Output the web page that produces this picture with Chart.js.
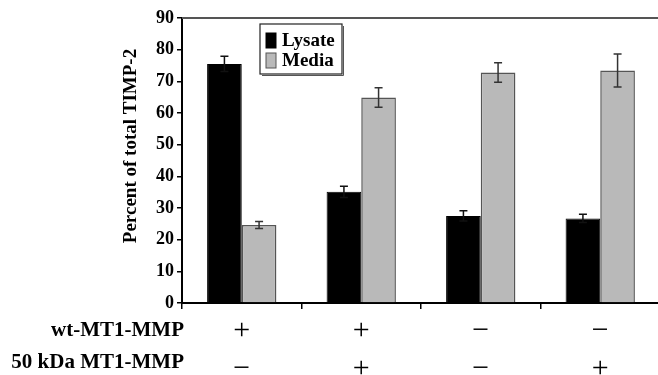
<!DOCTYPE html>
<html><head><meta charset="utf-8">
<script src="https://cdn.jsdelivr.net/npm/chart.js@4/dist/chart.umd.min.js"></script>
<style>html,body{margin:0;padding:0;overflow:hidden;background:#fff;width:658px;height:375px}
#wrap{width:660px;height:375px;position:relative}</style>
</head><body><div id="wrap"><canvas id="c" width="660" height="375"></canvas></div>
<script>
const wtMT1 = ['+', '+', '\u2212', '\u2212'];
const kda50 = ['\u2212', '+', '\u2212', '+'];
const rowLabels = ['wt-MT1-MMP', '50 kDa MT1-MMP'];
const seriesNames = ['Lysate', 'Media'];
const lysate = [75.5, 35.1, 27.5, 26.7];
const lysateErr = [2.4, 1.8, 1.6, 1.3];
const media = [24.6, 64.9, 72.8, 73.4];
const mediaErr = [1.1, 3.1, 3.1, 5.2];
const yTitle = 'Percent of total TIMP-2';
const yTicks = [0, 10, 20, 30, 40, 50, 60, 70, 80, 90];

const categories = wtMT1.map((w, i) => [w, kda50[i]]);
const errs = [lysateErr, mediaErr];
const SERIF = '"Liberation Serif", "Times New Roman", serif';

const extras = {
  id: 'extras',
  afterDatasetsDraw(chart) {
    const ctx = chart.ctx, ca = chart.chartArea, y = chart.scales.y;
    ctx.save();
    // top frame line
    ctx.strokeStyle = '#555'; ctx.lineWidth = 2;
    ctx.beginPath(); ctx.moveTo(ca.left, ca.top); ctx.lineTo(ca.right, ca.top); ctx.stroke();
    // error bars
    chart.data.datasets.forEach((ds, di) => {
      const meta = chart.getDatasetMeta(di);
      ctx.strokeStyle = di === 0 ? '#111' : '#333';
      ctx.lineWidth = 1.5;
      meta.data.forEach((bar, i) => {
        const v = ds.data[i], e = errs[di][i];
        const x = bar.x, yt = y.getPixelForValue(v + e), yb = y.getPixelForValue(v - e);
        ctx.beginPath();
        ctx.moveTo(x, yt); ctx.lineTo(x, yb);
        ctx.moveTo(x - 4, yt); ctx.lineTo(x + 4, yt);
        ctx.moveTo(x - 4, yb); ctx.lineTo(x + 4, yb);
        ctx.stroke();
      });
    });
    // legend
    const lx = 260, ly = 24, lw = 82, lh = 50;
    ctx.fillStyle = '#fff'; ctx.fillRect(lx, ly, lw, lh);
    ctx.strokeStyle = '#222'; ctx.lineWidth = 1.2; ctx.strokeRect(lx, ly, lw, lh);
    ctx.strokeStyle = '#555'; ctx.lineWidth = 1;
    ctx.beginPath(); ctx.moveTo(lx + lw + 1.5, ly + 2); ctx.lineTo(lx + lw + 1.5, ly + lh + 1.5); ctx.lineTo(lx + 2, ly + lh + 1.5); ctx.stroke();
    ctx.font = 'bold 19px ' + SERIF; ctx.textAlign = 'left'; ctx.textBaseline = 'middle';
    chart.data.datasets.forEach((ds, di) => {
      const cy = ly + 16 + di * 20;
      ctx.fillStyle = ds.backgroundColor; ctx.fillRect(lx + 6, cy - 7, 10, 15);
      ctx.strokeStyle = ds.borderColor; ctx.lineWidth = 1; ctx.strokeRect(lx + 6, cy - 7, 10, 15);
      ctx.fillStyle = '#000'; ctx.fillText(ds.label, lx + 22, cy + 1);
    });
    // y title
    ctx.save();
    ctx.translate(131, 146); ctx.rotate(-Math.PI / 2);
    ctx.font = 'bold 19px ' + SERIF; ctx.textAlign = 'center'; ctx.textBaseline = 'middle';
    ctx.fillStyle = '#000'; ctx.fillText(yTitle, 0, 0);
    ctx.restore();
    // row labels
    ctx.font = 'bold 21px ' + SERIF; ctx.textAlign = 'right'; ctx.textBaseline = 'middle'; ctx.fillStyle = '#000';
    ctx.fillText(rowLabels[0], 184, 331);
    ctx.fillText(rowLabels[1], 184, 363);
    ctx.restore();
  }
};

new Chart(document.getElementById('c'), {
  type: 'bar',
  data: {
    labels: categories,
    datasets: [
      { label: seriesNames[0], data: lysate, backgroundColor: '#000', borderColor: '#000', borderWidth: 1 },
      { label: seriesNames[1], data: media, backgroundColor: '#b9b9b9', borderColor: '#555', borderWidth: 1.5 }
    ]
  },
  options: {
    responsive: false, animation: false,
    layout: { padding: { top: 18, left: 0, right: 0, bottom: 0 } },
    categoryPercentage: 0.58, barPercentage: 1.0,
    plugins: { legend: { display: false }, tooltip: { enabled: false } },
    scales: {
      x: {
        grid: { display: true, drawOnChartArea: false, drawTicks: true, tickLength: 6, color: '#000', lineWidth: 1.5 },
        border: { display: true, color: '#000', width: 2 },
        ticks: { color: '#000', font: { family: SERIF, size: 30, lineHeight: 1.27 }, padding: 3, maxRotation: 0, autoSkip: false },
        afterFit(s) { s.height = 72; }
      },
      y: {
        min: 0, max: 90,
        afterBuildTicks(s) { s.ticks = yTicks.map(v => ({ value: v })); },
        grid: { display: true, drawOnChartArea: false, drawTicks: true, tickLength: 5, color: '#000', lineWidth: 1.5 },
        border: { display: true, color: '#000', width: 2 },
        ticks: { color: '#000', font: { family: SERIF, size: 18, weight: 'bold' }, padding: 3 },
        afterFit(s) { s.width = 182; }
      }
    }
  },
  plugins: [extras]
});
</script></body></html>
